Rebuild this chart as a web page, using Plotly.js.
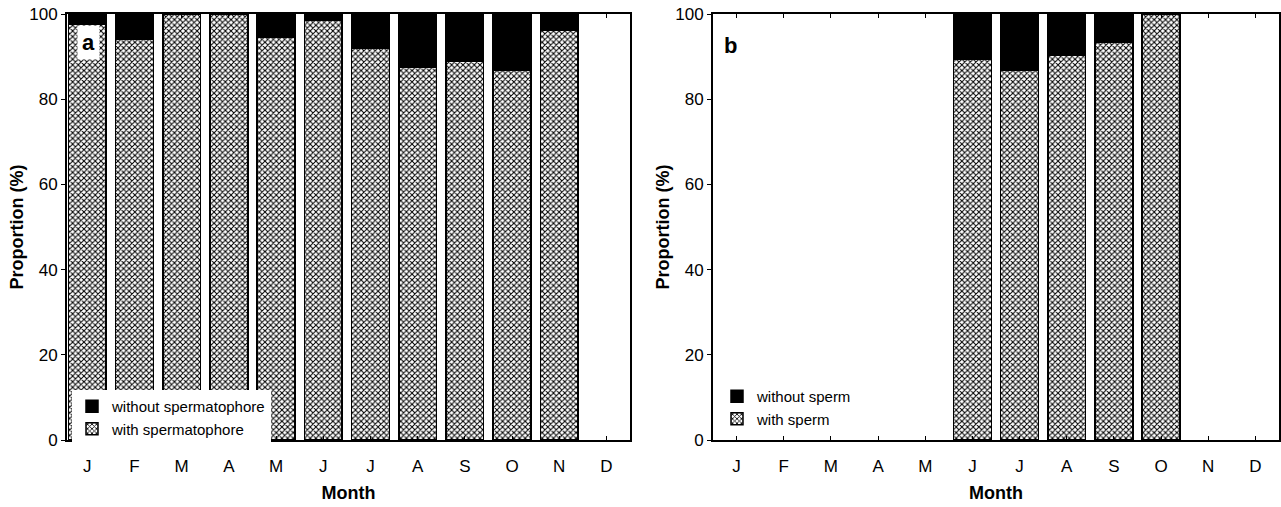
<!DOCTYPE html>
<html>
<head>
<meta charset="utf-8">
<script src="https://cdn.plot.ly/plotly-3.0.1.min.js"></script>
<style>html,body{margin:0;padding:0;background:#fff}#chart{width:1281px;height:507px}</style>
</head>
<body>
<div id="chart"></div>
<script>
const months = ["Jan","Feb","Mar","Apr","May","Jun","Jul","Aug","Sep","Oct","Nov","Dec"];
const monthLabels = ["J","F","M","A","M","J","J","A","S","O","N","D"];
const yTicks = [0,20,40,60,80,100];

// Panel a: spermatophore
const aWith    = [97.5, 94.1, 100, 100, 94.5, 98.6, 91.9, 87.5, 88.9, 86.8, 96.2, null];
const aWithout = [2.5, 5.9, 0, 0, 5.5, 1.4, 8.1, 12.5, 11.1, 13.2, 3.8, null];
// Panel b: sperm
const bWith    = [null, null, null, null, null, 89.4, 86.7, 90.4, 93.3, 100, null, null];
const bWithout = [null, null, null, null, null, 10.6, 13.3, 9.6, 6.7, 0, null, null];

const hatch = {shape: "x", fgcolor: "#000", bgcolor: "#fff", size: 4, solidity: 0.45};
const outline = {color: "#000", width: 1.5};
const FONT = "Liberation Sans Narrow, Liberation Sans, Arial, sans-serif";
const TFONT = "Liberation Sans, Arial, sans-serif";

const traces = [
  {type: "bar", x: months, y: aWith, name: "with spermatophore", xaxis: "x", yaxis: "y", legend: "legend",
   width: 0.8, marker: {color: "#fff", pattern: hatch, line: outline}, hoverinfo: "y"},
  {type: "bar", x: months, y: aWithout, name: "without spermatophore", xaxis: "x", yaxis: "y", legend: "legend",
   width: 0.8, marker: {color: "#000", line: outline}, hoverinfo: "y"},
  {type: "bar", x: months, y: bWith, name: "with sperm", xaxis: "x2", yaxis: "y2", legend: "legend2",
   width: 0.8, marker: {color: "#fff", pattern: hatch, line: outline}, hoverinfo: "y"},
  {type: "bar", x: months, y: bWithout, name: "without sperm", xaxis: "x2", yaxis: "y2", legend: "legend2",
   width: 0.8, marker: {color: "#000", line: outline}, hoverinfo: "y"}
];

const W = 1281, H = 507;
const yDom = [1 - 440/H, 1 - 14/H];

function xAxis(domain, range, anchor){
  return {
    domain: domain, anchor: anchor, type: "category", range: range,
    tickvals: months, ticktext: monthLabels,
    ticks: "inside", ticklen: 4, tickwidth: 1, tickcolor: "#000",
    showline: true, linecolor: "#000", linewidth: 2, mirror: "ticks",
    showgrid: false, zeroline: false, ticklabelstandoff: 10,
    tickfont: {family: FONT, size: 17, color: "#000"},
    title: {text: "<b>Month</b>", font: {family: TFONT, size: 18, color: "#000"}, standoff: 11}
  };
}
function yAxis(anchor){
  return {
    domain: yDom, anchor: anchor, range: [0, 100], tickvals: yTicks,
    ticks: "outside", ticklen: 4, tickwidth: 1, tickcolor: "#000",
    showline: true, linecolor: "#000", linewidth: 2, mirror: true,
    showgrid: false, zeroline: false,
    tickfont: {family: FONT, size: 17, color: "#000"},
    title: {text: "<b>Proportion (%)</b>", font: {family: TFONT, size: 18, color: "#000"}, standoff: 1}
  };
}
function yRight(over, anchor){
  return {
    domain: yDom, overlaying: over, anchor: anchor, side: "right", range: [0, 100], tickvals: yTicks,
    ticks: "inside", ticklen: 4, tickwidth: 1, tickcolor: "#000",
    showticklabels: false, showline: false, showgrid: false, zeroline: false
  };
}

const layout = {
  width: W, height: H,
  margin: {l: 0, r: 0, t: 0, b: 0},
  paper_bgcolor: "#fff", plot_bgcolor: "#fff",
  barmode: "stack", bargap: 0.2,
  showlegend: true,
  xaxis: xAxis([67/W, 630/W], [-0.43, 11.5], "y"),
  yaxis: yAxis("x"),
  xaxis2: xAxis([713/W, 1279/W], [-0.5, 11.5], "y2"),
  yaxis2: yAxis("x2"),
  yaxis3: yRight("y", "x"),
  yaxis4: yRight("y2", "x2"),
  legend: {x: 72/W, y: 1 - 390/H, xanchor: "left", yanchor: "top", bgcolor: "#fff", borderwidth: 0,
           traceorder: "reversed", tracegroupgap: 0,
           font: {family: TFONT, size: 15, color: "#000"}},
  legend2: {x: 717/W, y: 1 - 380/H, xanchor: "left", yanchor: "top", bgcolor: "rgba(0,0,0,0)", borderwidth: 0,
            traceorder: "reversed", tracegroupgap: 0,
            font: {family: TFONT, size: 15, color: "#000"}},
  annotations: [
    {xref: "paper", yref: "paper", x: 89/W, y: 1 - 43/H, text: "<b>a</b>", showarrow: false,
     font: {family: TFONT, size: 22, color: "#000"}, bgcolor: "#fff",
     borderpad: 4, xanchor: "center", yanchor: "middle"},
    {xref: "paper", yref: "paper", x: 730/W, y: 1 - 45/H, text: "<b>b</b>", showarrow: false,
     font: {family: TFONT, size: 22, color: "#000"},
     xanchor: "center", yanchor: "middle"}
  ]
};

Plotly.newPlot("chart", traces, layout, {displayModeBar: false, staticPlot: true});
</script>
</body>
</html>
